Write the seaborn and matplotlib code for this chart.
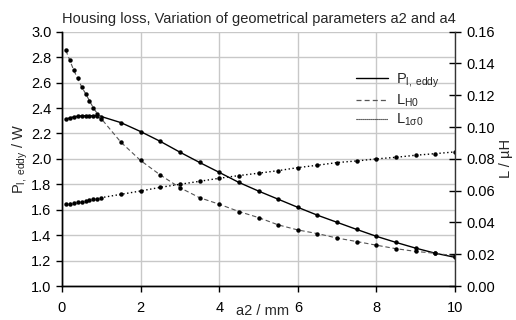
import numpy as np
import pandas as pd
import matplotlib
matplotlib.use("Agg")
import matplotlib.pyplot as plt
from matplotlib.lines import Line2D
import seaborn as sns

# a2 in mm
a2 = [0.1, 0.2, 0.3, 0.4, 0.5, 0.6, 0.7, 0.8, 0.9, 1.0,
      1.5, 2.0, 2.5, 3.0, 3.5, 4.0, 4.5, 5.0, 5.5,
      6.0, 6.5, 7.0, 7.5, 8.0, 8.5, 9.0, 9.5, 10.0]

# eddy current loss in W (left axis)
p_eddy = [2.312, 2.322, 2.330, 2.335, 2.338, 2.339, 2.339, 2.339, 2.339, 2.333,
          2.285, 2.215, 2.138, 2.053, 1.972, 1.894, 1.815, 1.747, 1.683,
          1.619, 1.557, 1.501, 1.445, 1.391, 1.343, 1.298, 1.258, 1.226]

# inductances in uH (right axis)
l_h0 = [0.1482, 0.1420, 0.1358, 0.1306, 0.1254, 0.1211, 0.1166, 0.1120, 0.1085, 0.1053,
        0.0905, 0.0790, 0.0699, 0.0619, 0.0556, 0.0515, 0.0469, 0.0431, 0.0385,
        0.0353, 0.0330, 0.0302, 0.0280, 0.0257, 0.0235, 0.0218, 0.0206, 0.0190]

l_sigma = [0.0515, 0.0519, 0.0523, 0.0527, 0.0530, 0.0534, 0.0540, 0.0545, 0.0549, 0.0556,
           0.0577, 0.0598, 0.0621, 0.0640, 0.0659, 0.0678, 0.0695, 0.0710, 0.0726,
           0.0745, 0.0760, 0.0777, 0.0787, 0.0800, 0.0810, 0.0823, 0.0833, 0.0844]

df = pd.DataFrame({'a2': a2, 'p_eddy': p_eddy, 'l_h0': l_h0, 'l_sigma': l_sigma})

sns.set_theme(style="white")
plt.rcParams['font.family'] = ['Liberation Sans', 'DejaVu Sans']
plt.rcParams['mathtext.fontset'] = 'custom'
plt.rcParams['mathtext.rm'] = 'Liberation Sans'
plt.rcParams['mathtext.it'] = 'Liberation Sans:italic'
plt.rcParams['mathtext.bf'] = 'Liberation Sans:bold'

fs = 10.5

fig = plt.figure(figsize=(5.16, 3.2), dpi=100)
ax = fig.add_axes([0.120, 0.106, 0.762, 0.795])
ax2 = ax.twinx()

# grid only from the left axis
ax.set_xticks([0, 2, 4, 6, 8, 10])
ax.set_yticks(np.arange(1.0, 3.01, 0.2))
ax.grid(True, color='#c8c8c8', lw=1.0)
ax.set_axisbelow(True)

sns.lineplot(data=df, x='a2', y='p_eddy', ax=ax, color='black', lw=1.0,
             marker='o', markersize=3.2, markeredgewidth=0, estimator=None, errorbar=None)
sns.lineplot(data=df, x='a2', y='l_h0', ax=ax2, color='#555555', lw=0.8, linestyle=(0, (4, 2.5)),
             marker='o', markersize=3.2, markerfacecolor='black', markeredgewidth=0,
             estimator=None, errorbar=None)
sns.lineplot(data=df, x='a2', y='l_sigma', ax=ax2, color='black', lw=1.0, linestyle=(0, (1, 1.8)),
             marker='o', markersize=3.2, markeredgewidth=0, estimator=None, errorbar=None)

ax.set_xlim(0, 10)
ax.set_ylim(1.0, 3.0)
ax2.set_ylim(0.0, 0.16)
ax2.set_yticks(np.arange(0.0, 0.161, 0.02))

ax.yaxis.set_major_formatter(matplotlib.ticker.FormatStrFormatter('%.1f'))
ax2.yaxis.set_major_formatter(matplotlib.ticker.FormatStrFormatter('%.2f'))

for a in (ax, ax2):
    a.spines['top'].set_visible(False)
    for s in a.spines.values():
        s.set_color('black')
        s.set_linewidth(1.0)
ax.spines['right'].set_visible(False)
ax2.spines['right'].set_color('#333333')

ax.tick_params(axis='x', direction='out', length=4, width=1, pad=7, labelsize=fs, colors='black', bottom=True)
ax.tick_params(axis='y', direction='out', length=4, width=1, pad=3.5, labelsize=fs, colors='black', left=True)
ax2.tick_params(axis='y', direction='inout', length=8, width=1, pad=4, labelsize=fs, colors='black', right=True)

ax.set_title('Housing loss, Variation of geometrical parameters a2 and a4', fontsize=fs, pad=6)
ax.set_xlabel('a2 / mm', fontsize=fs)
ax.xaxis.set_label_coords(0.51, -0.072)
ax.set_ylabel(r'P$_\mathrm{l,\ eddy}$ / W', fontsize=fs, labelpad=1)
ax2.set_ylabel('L / µH', fontsize=fs, rotation=90, labelpad=3)

handles = [Line2D([], [], color='black', lw=1.0),
           Line2D([], [], color='#555555', lw=0.9, linestyle=(0, (4, 2.5))),
           Line2D([], [], color='black', lw=0.8, linestyle=(0, (1, 0.8)))]
labels = [r'P$_\mathrm{l,\ eddy}$', r'L$_\mathrm{H0}$', r'L$_\mathrm{1σ0}$']
ax2.legend(handles, labels, loc='upper left', bbox_to_anchor=(0.715, 0.895), frameon=False,
           fontsize=fs, handlelength=2.2, handletextpad=0.5, labelspacing=0.2)

fig.savefig('out.png', dpi=100)
